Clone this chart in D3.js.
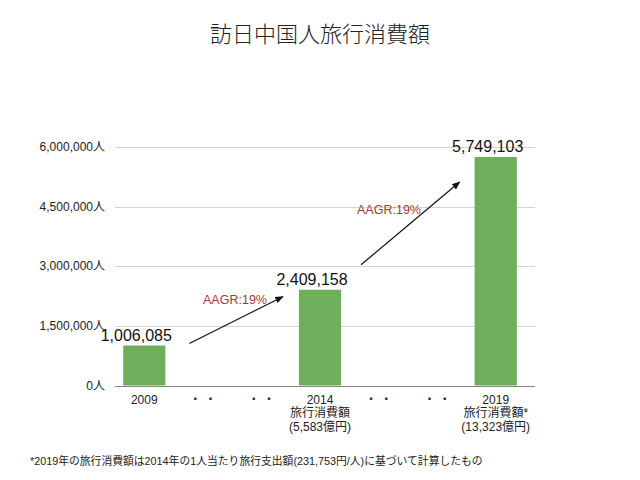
<!DOCTYPE html>
<html>
<head>
<meta charset="utf-8">
<script src="https://cdn.jsdelivr.net/npm/d3@7"></script>
<style>
  body { margin: 0; background: #fff; }
  svg { font-family: "Liberation Sans", "Helvetica Neue", Arial, "Noto Sans CJK JP", sans-serif; }
</style>
</head>
<body>
<div id="chart"></div>
<script>
// data
const categories = ["2009", "gap1", "gap2", "2014", "gap3", "gap4", "2019"];
const visitors = [1006085, null, null, 2409158, null, null, 5749103];
const subLabels = [[], [], [], ["旅行消費額", "(5,583億円)"], [], [], ["旅行消費額*", "(13,323億円)"]];
const yTicks = [0, 1500000, 3000000, 4500000, 6000000];
const growthLabels = ["AAGR:19%", "AAGR:19%"];

const width = 640, height = 480;
const margin = {top: 147, right: 115, bottom: 95, left: 115};

const svg = d3.select("#chart").append("svg")
    .attr("width", width)
    .attr("height", height)
    .attr("viewBox", [0, 0, width, height]);

const x = d3.scaleBand()
    .domain(categories)
    .range([margin.left, width - margin.right])
    .paddingInner(0.28)
    .paddingOuter(0.14);

const y = d3.scaleLinear()
    .domain([0, 6000000])
    .range([height - margin.bottom + 0.5, margin.top]);

const fmt = d3.format(",");

// title
svg.append("text")
    .attr("x", width / 2)
    .attr("y", 42)
    .attr("text-anchor", "middle")
    .attr("font-size", 22)
    .attr("font-weight", 300)
    .attr("font-family", "'Noto Sans CJK JP', sans-serif")
    .attr("fill", "#222")
    .text("訪日中国人旅行消費額");

// grid
svg.append("g")
  .selectAll("line")
  .data(yTicks.filter(d => d > 0))
  .join("line")
    .attr("x1", margin.left)
    .attr("x2", width - margin.right + 10)
    .attr("y1", d => Math.round(y(d)) + 0.5)
    .attr("y2", d => Math.round(y(d)) + 0.5)
    .attr("stroke", "#d4d4d4");

svg.append("g")
  .selectAll("text")
  .data(yTicks)
  .join("text")
    .attr("x", 105)
    .attr("y", d => y(d) + 4)
    .attr("text-anchor", "end")
    .attr("font-size", 12)
    .attr("fill", "#222")
    .text(d => fmt(d) + "人");

// bars
const bars = categories.map((c, i) => ({c, v: visitors[i], sub: subLabels[i]}));

svg.append("g")
  .selectAll("rect")
  .data(bars.filter(d => d.v != null))
  .join("rect")
    .attr("x", d => x(d.c))
    .attr("width", x.bandwidth())
    .attr("y", d => y(d.v))
    .attr("height", d => y(0) - y(d.v))
    .attr("fill", "#6daf5b");

// baseline
svg.append("line")
    .attr("x1", margin.left)
    .attr("x2", width - margin.right + 10)
    .attr("y1", Math.round(y(0)) + 0.5)
    .attr("y2", Math.round(y(0)) + 0.5)
    .attr("stroke", "#888");

// value labels
svg.append("g")
  .selectAll("text")
  .data(bars.filter(d => d.v != null))
  .join("text")
    .attr("x", d => x(d.c) + x.bandwidth() / 2 - 8)
    .attr("y", d => y(d.v) - 5)
    .attr("text-anchor", "middle")
    .attr("font-size", 16)
    .attr("fill", "#111")
    .text(d => fmt(d.v));

// x labels
const xl = svg.append("g")
  .selectAll("text")
  .data(bars)
  .join("text")
    .attr("x", d => x(d.c) + x.bandwidth() / 2)
    .attr("y", y(0) + 18)
    .attr("text-anchor", "middle")
    .attr("font-size", 12)
    .attr("fill", "#222");

xl.each(function(d) {
  const t = d3.select(this);
  const first = d.v != null ? d.c : "・ ・";
  t.append("tspan").attr("x", x(d.c) + x.bandwidth() / 2).text(first);
  d.sub.forEach(s => {
    t.append("tspan")
      .attr("x", x(d.c) + x.bandwidth() / 2)
      .attr("dy", 13.5)
      .text(s);
  });
});

// growth arrows
svg.append("defs").append("marker")
    .attr("id", "head")
    .attr("viewBox", "0 0 10 10")
    .attr("refX", 9)
    .attr("refY", 5)
    .attr("markerWidth", 7)
    .attr("markerHeight", 7)
    .attr("orient", "auto")
  .append("path")
    .attr("d", "M0,1 L10,5 L0,9 Z")
    .attr("fill", "#111");

const b = x.bandwidth();
const arrows = [
  {x1: x("2009") + b + 24, y1: y(visitors[0]) - 2, x2: x("2014") - 16, y2: y(visitors[3]) + 7, label: growthLabels[0], lx: 235, ly: y(visitors[3]) + 14},
  {x1: x("2014") + b + 20, y1: y(visitors[3]) - 25, x2: x("2019") - 15, y2: y(visitors[6]) + 25, label: growthLabels[1], lx: 389, ly: y(visitors[6]) + 57}
];

svg.append("g")
  .selectAll("line")
  .data(arrows)
  .join("line")
    .attr("x1", d => d.x1)
    .attr("y1", d => d.y1)
    .attr("x2", d => d.x2)
    .attr("y2", d => d.y2)
    .attr("stroke", "#111")
    .attr("stroke-width", 1.2)
    .attr("marker-end", "url(#head)");

svg.append("g")
  .selectAll("text")
  .data(arrows)
  .join("text")
    .attr("x", d => d.lx)
    .attr("y", d => d.ly)
    .attr("text-anchor", "middle")
    .attr("font-size", 12.5)
    .attr("fill", "#a33a32")
    .text(d => d.label);

// footnote
svg.append("text")
    .attr("x", 30)
    .attr("y", 465)
    .attr("font-size", 10.8)
    .attr("fill", "#222")
    .text("*2019年の旅行消費額は2014年の1人当たり旅行支出額(231,753円/人)に基づいて計算したもの");
</script>
</body>
</html>
